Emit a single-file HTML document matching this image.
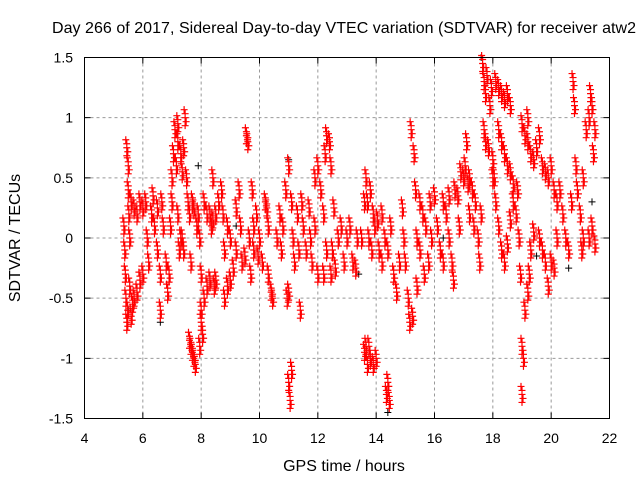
<!DOCTYPE html>
<html><head><meta charset="utf-8"><style>
body{margin:0;background:#fff;}
svg text{font-family:"Liberation Sans",sans-serif;font-size:14px;fill:#000;}
svg text.big{font-size:16px;}
</style></head><body>
<svg id="chart" width="640" height="480">
<text class="big" x="344" y="33" text-anchor="middle" textLength="584">Day 266 of 2017, Sidereal Day-to-day VTEC variation (SDTVAR) for receiver atw2</text>
<text class="big" x="344" y="471" text-anchor="middle">GPS time / hours</text>
<text class="big" transform="translate(20,238) rotate(-90)" text-anchor="middle">SDTVAR / TECUs</text>
<g id="grid"></g><g id="marks"></g>
<rect x="84.5" y="57.5" width="525" height="361" fill="none" stroke="#000"/>
<g id="ticks"></g>
</svg>
<script>
const xTicks=[4,6,8,10,12,14,16,18,20,22];
const yTicks=[1.5,1,0.5,0,-0.5,-1,-1.5];
const yTickLabels=["1.5","1","0.5","0","-0.5","-1","-1.5"];
const hours=[5.35,5.38,5.4,5.42,5.45,5.48,5.5,5.5,5.52,5.55,5.45,5.55,5.6,5.65,5.7,5.8,5.9,6.0,5.6,5.7,5.8,5.9,6.0,
6.1,6.15,6.2,6.3,6.35,6.4,6.5,6.5,6.6,6.6,6.65,6.7,6.8,6.85,6.9,6.95,7.0,7.0,
7.05,7.1,7.15,7.2,7.3,7.35,7.4,7.45,7.2,7.25,7.3,7.35,7.4,7.2,
7.5,7.55,7.6,7.65,7.6,7.7,7.8,7.65,7.75,7.7,7.75,
7.85,7.9,7.95,8.0,8.0,8.05,8.1,8.1,8.2,8.2,8.3,8.35,8.4,8.45,8.5,7.95,8.0,8.3,8.4,8.5,
8.6,8.7,8.75,8.8,8.9,9.0,9.0,9.1,9.2,9.3,9.35,9.4,9.5,8.8,8.9,9.2,
9.55,9.6,9.65,9.7,9.8,9.9,9.95,10.0,10.1,10.2,10.25,10.3,10.4,10.45,10.3,9.75,9.8,
10.6,10.7,10.75,10.8,10.9,10.95,11.0,11.0,11.05,11.1,11.0,11.1,11.15,11.2,
11.3,11.35,11.4,11.45,11.5,11.6,11.7,11.75,11.8,11.9,12.0,11.9,12.0,
12.1,12.2,12.25,12.3,12.4,12.45,12.5,12.55,12.6,12.7,12.8,12.9,13.0,12.2,12.3,12.45,
13.1,13.2,13.3,13.35,13.5,13.6,13.65,13.7,13.75,13.8,13.85,13.9,13.95,13.6,13.7,13.8,13.9,13.75,14.0,13.65,
14.05,14.1,14.2,14.3,14.35,14.4,14.45,14.4,14.5,14.6,14.7,14.8,14.9,14.95,15.0,14.2,
15.1,15.15,15.2,15.3,15.25,15.35,15.4,15.5,15.6,15.65,15.7,15.8,15.85,15.9,16.0,15.5,15.4,
16.1,16.2,16.3,16.4,16.5,16.6,16.65,16.7,16.8,16.85,16.9,17.0,16.5,16.3,
17.05,17.1,17.15,17.2,17.3,17.35,17.4,17.5,17.55,17.6,17.2,
17.65,17.7,17.75,17.8,17.7,17.75,17.85,17.9,17.95,18.0,18.05,18.1,18.2,18.3,18.4,18.5,18.6,18.2,18.3,18.4,18.5,18.6,18.7,18.0,18.1,18.2,18.3,18.4,18.5,18.6,18.7,
18.8,18.85,18.9,18.95,19.0,19.0,19.05,19.1,19.2,19.25,19.0,19.1,19.2,19.3,19.4,19.5,19.3,19.4,19.2,
19.6,19.7,19.8,19.9,20.0,20.1,19.6,19.7,19.8,19.9,20.0,20.1,20.2,20.3,20.4,20.5,20.2,
20.6,20.7,20.75,20.8,20.85,20.9,21.0,21.05,21.1,21.2,21.3,21.35,21.4,21.45,21.5,21.3,21.4,21.5,21.1];
const sdtvar=[0.1,-0.1,-0.3,-0.5,-0.7,-0.6,0.6,0.4,0.2,0,0.75,-0.4,-0.65,-0.55,-0.5,-0.45,-0.35,-0.3,0.3,0.25,0.2,0.3,0.25,
0.3,0.0,-0.2,0.2,0.35,0.1,-0.1,0.25,-0.3,-0.6,0.3,0.1,-0.2,-0.45,-0.3,0.1,0.5,0.3,
0.7,0.9,0.6,0.8,0.7,0.55,0.75,1.0,0.2,-0.1,0.0,0.0,-0.1,0.95,
0.5,0.3,0.2,-0.2,-0.85,-0.95,-1.05,-0.9,-1.0,0.3,0.25,
0.1,0.2,0.0,-0.3,-0.6,-0.8,-0.5,0.3,0.2,-0.4,-0.35,0.1,0.15,-0.4,-0.35,-0.9,-0.7,0.2,0.5,0.2,
0.3,0.4,0.2,-0.1,0.1,0.0,-0.35,-0.25,0.25,0.4,0.1,-0.2,-0.15,-0.5,-0.4,-0.1,
0.85,0.8,0.0,-0.3,0.1,0.2,-0.15,0.0,-0.2,0.3,0.25,-0.3,-0.45,-0.5,0.1,0.4,-0.1,
0.0,0.2,-0.1,0.1,0.4,-0.5,-0.45,-1.2,-1.35,-1.1,0.6,0.3,0.0,-0.2,
0.2,-0.1,-0.6,0.3,0.1,-0.1,0.25,0.0,-0.2,0.1,-0.3,0.5,0.6,
0.4,0.2,0.7,0.85,0.8,0.6,-0.1,0.25,-0.25,0.0,0.1,-0.2,0.0,-0.3,-0.1,-0.3,
0.1,-0.2,-0.25,0.0,0.0,0.3,0.5,0.3,0.0,0.4,-0.1,0.2,0.1,-0.95,-1.05,-1.0,-1.05,-0.9,-1.0,-0.9,
0.15,-0.1,-0.2,0.0,-1.3,-1.2,-1.35,-0.1,0.1,-0.3,-0.45,-0.2,0.25,0.0,-0.2,0.2,
-0.5,-0.7,0.9,0.7,-0.65,0.4,-0.4,-0.1,0.2,-0.3,0.1,-0.2,0.3,0.0,0.35,0.3,0.0,
0.1,-0.1,0.3,0.2,0.0,-0.2,-0.35,0.4,0.35,0.1,0.55,0.5,0.35,-0.2,
0.6,0.8,0.45,0.2,0.4,0.1,0.3,0.0,-0.2,0.2,0.5,
1.45,1.3,1.2,1.35,0.9,0.8,0.75,1.1,1.25,0.65,0.5,1.3,1.25,1.2,1.15,1.2,1.1,0.9,0.8,0.7,0.6,0.55,0.45,0.5,0.3,0.1,-0.1,-0.2,-0.05,0.15,0.3,
0.2,0.4,0.0,-0.3,-0.9,-1.3,-1.0,-0.6,-0.45,-0.3,0.95,0.85,0.8,0.7,0.65,0.75,-0.1,0.05,1.0,
0.85,0.6,0.55,0.5,0.6,0.4,0.0,-0.1,-0.2,-0.4,-0.2,-0.25,0.0,0.4,0.2,0.0,0.3,
-0.1,0.3,1.3,1.1,0.6,0.4,0.2,-0.1,0.0,0.9,1.0,1.2,1.1,0.7,0.9,0.0,0.1,-0.05,0.5];
const hoursBlack=[5.5,6.6,7.9,9.2,11.0,13.4,14.4,16.3,17.6,19.5,20.6,21.4];
const sdtvarBlack=[-0.6,-0.7,0.6,0.1,0.65,-0.3,-1.45,0.0,1.5,-0.15,-0.25,0.3];

const X=h=>84.5+(h-4)*(525/18);
const Y=v=>57.5+(1.5-v)*(361/3);
const NS="http://www.w3.org/2000/svg";
const grid=document.getElementById('grid'),ticks=document.getElementById('ticks'),marks=document.getElementById('marks');
function mk(tag,attrs,parent){const e=document.createElementNS(NS,tag);for(const k in attrs)e.setAttribute(k,attrs[k]);parent.appendChild(e);return e;}
xTicks.forEach((t,i)=>{
 if(i>0&&i<xTicks.length-1){const g=mk('line',{x1:X(t),x2:X(t),y1:57.5,y2:418.5,stroke:'#999','stroke-dasharray':'3,3'},grid);
 
 }
 const tk=mk('path',{d:`M${X(t)},418.5v-6M${X(t)},57.5v6`,stroke:'#000'},ticks);
 
 
 const l=mk('text',{x:X(t),y:443,'text-anchor':'middle'},ticks);l.textContent=t;
 
 
});
yTicks.forEach((v,i)=>{
 if(i>0&&i<yTicks.length-1){const g=mk('line',{x1:84.5,x2:609.5,y1:Y(v),y2:Y(v),stroke:'#999','stroke-dasharray':'3,3'},grid);
 
 }
 const tk=mk('path',{d:`M84.5,${Y(v)}h6M609.5,${Y(v)}h-6`,stroke:'#000'},ticks);
 
 
 const l=mk('text',{x:73,y:Y(v)+5,'text-anchor':'end'},ticks);l.textContent=yTickLabels[i];
 
 
});
function plus(x,y){return `M${x-3.5},${y}h7M${x},${y-3.5}v7`;}
let dB='';hoursBlack.forEach((h,i)=>{dB+=plus(X(h),Y(sdtvarBlack[i]));});
const pb=mk('path',{d:dB,stroke:'#000','stroke-width':1,fill:'none'},marks);


let dR='';const offs=[[0,0],[0,-4],[1,4],[-1,-8],[0,8]];
hours.forEach((h,i)=>{const x=X(h),y=Y(sdtvar[i]);offs.forEach(o=>{dR+=plus(x+o[0],y+o[1]);});});
const pr=mk('path',{d:dR,stroke:'#f00','stroke-width':1.2,fill:'none'},marks);


</script>
</body></html>
